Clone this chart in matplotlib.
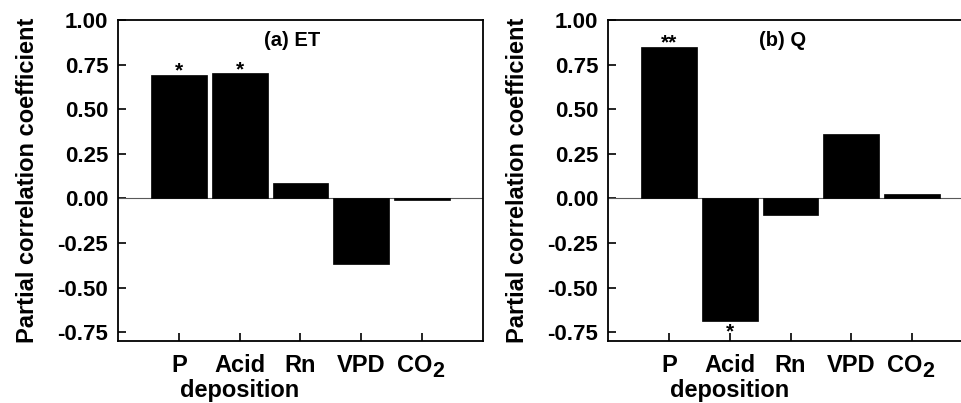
import matplotlib
matplotlib.use("Agg")
import matplotlib.pyplot as plt
from matplotlib.transforms import blended_transform_factory

plt.rcParams['font.family'] = ['Liberation Sans', 'DejaVu Sans']
plt.rcParams['font.weight'] = 'bold'

# data
factors = ['P', 'Acid', 'Rn', 'VPD', 'CO']
factor_sub = ['', '', '', '', '2']
factor_line2 = ['', 'deposition', '', '', '']
et_vals = [0.692, 0.700, 0.084, -0.366, -0.012]
q_vals = [0.848, -0.687, -0.094, 0.360, 0.022]
et_sig = ['*', '*', '', '', '']
q_sig = ['**', '*', '', '', '']
titles = ['(a) ET', '(b) Q']
yticks = [-0.75, -0.5, -0.25, 0.0, 0.25, 0.5, 0.75, 1.0]

fig = plt.figure(figsize=(9.62, 4.03), dpi=100, facecolor='white')
ax_left = fig.add_axes([118/962, 62/403, 365/962, 321/403])
ax_right = fig.add_axes([608/962, 62/403, 365/962, 321/403])

for ax, vals, sig, title in zip([ax_left, ax_right], [et_vals, q_vals], [et_sig, q_sig], titles):
    x = list(range(len(factors)))
    ax.bar(x, vals, width=0.92, color='black', edgecolor='black', linewidth=0.5, zorder=3)
    ax.axhline(0, color='0.35', linewidth=0.8, zorder=2)
    for xi, v, s in zip(x, vals, sig):
        if not s:
            continue
        if v >= 0:
            ax.annotate(s, (xi, v), xytext=(0, -4), textcoords='offset points',
                        ha='center', va='bottom', fontsize=15, fontweight='bold')
        else:
            ax.annotate(s, (xi, v), xytext=(0, -1), textcoords='offset points',
                        ha='center', va='top', fontsize=15, fontweight='bold')
    ax.set_xlim(-1, 5)
    ax.set_ylim(-0.8, 1.0)
    ax.set_xticks(x)
    ax.set_xticklabels([])
    # category labels drawn by hand (big subscript, second line)
    trans = blended_transform_factory(ax.transData, ax.transAxes)
    for xi, lab, sub, l2 in zip(x, factors, factor_sub, factor_line2):
        if sub:
            ax.annotate(lab, (xi, 0), xycoords=trans, xytext=(7.2, -22.3), textcoords='offset points',
                        ha='right', va='baseline', fontsize=17, fontweight='bold', annotation_clip=False)
            ax.annotate(sub, (xi, 0), xycoords=trans, xytext=(7.6, -26), textcoords='offset points',
                        ha='left', va='baseline', fontsize=15.5, fontweight='bold', annotation_clip=False)
        else:
            ax.annotate(lab, (xi, 0), xycoords=trans, xytext=(0, -22.3), textcoords='offset points',
                        ha='center', va='baseline', fontsize=17, fontweight='bold', annotation_clip=False)
        if l2:
            ax.annotate(l2, (xi, 0), xycoords=trans, xytext=(0, -40.3), textcoords='offset points',
                        ha='center', va='baseline', fontsize=17, fontweight='bold', annotation_clip=False)
    ax.set_yticks(yticks)
    ax.set_yticklabels(['%.2f' % t for t in yticks], fontsize=16, fontweight='bold')
    ax.tick_params(axis='both', direction='in', length=6, width=1.2, top=False, right=False)
    ax.tick_params(axis='y', pad=7)
    ax.set_ylabel('Partial correlation coefficient', fontsize=17, fontweight='bold', labelpad=13)
    for sp in ax.spines.values():
        sp.set_linewidth(1.3)
    ax.text(0.477, 0.937, title, transform=ax.transAxes, ha='center', va='center',
            fontsize=14.5, fontweight='bold')

fig.savefig('out.png', dpi=100, facecolor='white')
